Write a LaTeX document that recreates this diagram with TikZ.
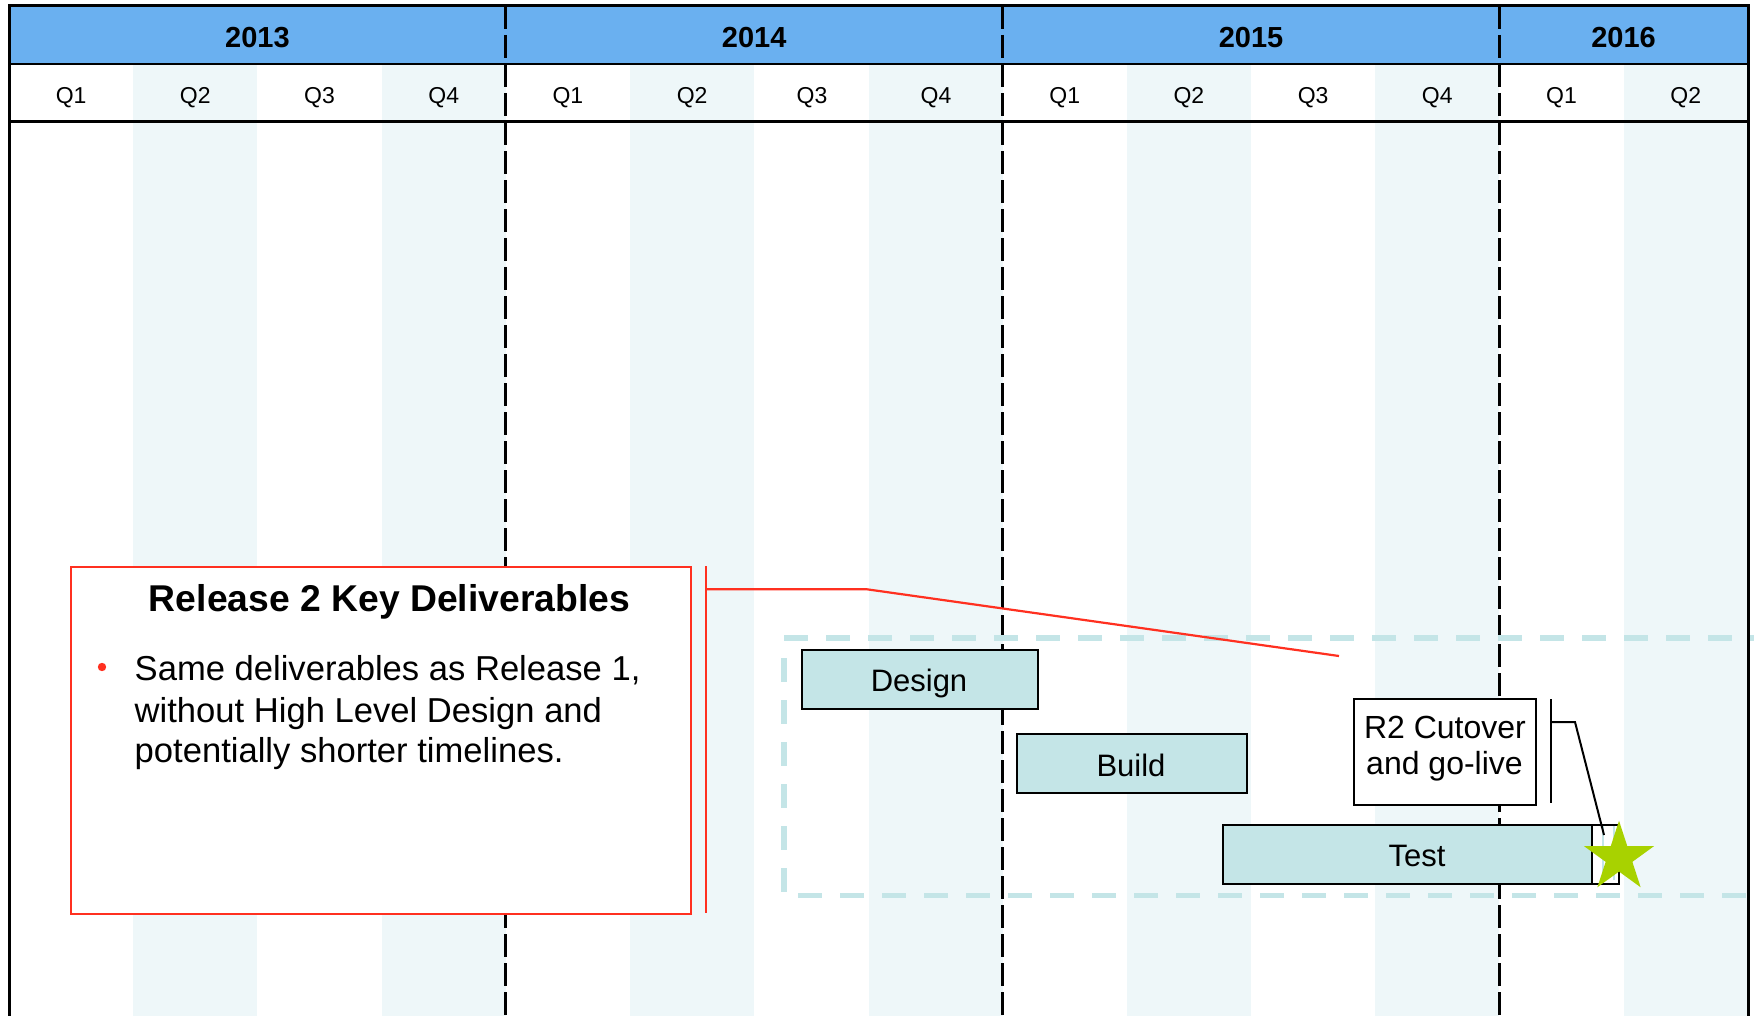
\documentclass[tikz,border=0pt]{standalone}
\usepackage{fontspec}
\setmainfont{Liberation Sans}
\usetikzlibrary{shapes.geometric}
\definecolor{hdrblue}{RGB}{106,176,240}
\definecolor{colshade}{RGB}{238,247,249}
\definecolor{barfill}{RGB}{196,229,231}
\definecolor{calred}{RGB}{255,48,32}
\definecolor{stargreen}{RGB}{168,210,0}
\begin{document}
\begin{tikzpicture}[x=1pt,y=-1pt,
  yearlab/.style={font=\bfseries\fontsize{29}{34}\selectfont, anchor=base, inner sep=0pt},
  qlab/.style={font=\fontsize{23}{28}\selectfont, anchor=base, inner sep=0pt},
  barbox/.style={draw=black, line width=2.2pt, fill=barfill, rectangle, anchor=north west, inner sep=0pt},
  barlab/.style={font=\fontsize{31}{36}\selectfont, anchor=base, inner sep=0pt},
  yearline/.style={line width=2.7pt, dash pattern=on 23pt off 6pt},
  tealdash/.style={draw=barfill, line width=5.5pt, dash pattern=on 24pt off 18pt},
  redline/.style={draw=calred, line width=2.2pt},
  frameline/.style={line width=3pt}]
\useasboundingbox (0,0) rectangle (1754,1016);
\fill[white] (0,0) rectangle (1754,1016);
% shaded quarter columns
\foreach \i in {1,3,5,9,11,13} {
  \fill[colshade] ({9+\i*124.2},64) rectangle ({9+(\i+1)*124.2},1016);
}
\fill[colshade] (869,64) rectangle (1002.6,1016);
% year header
\fill[hdrblue] (9,6) rectangle (1748,64);
\node[yearlab] (y2013) at (257.4,48) {2013};
\node[yearlab] (y2014) at (754.2,48) {2014};
\node[yearlab] (y2015) at (1251.0,48) {2015};
\node[yearlab] (y2016) at (1623.6,48) {2016};
% quarter labels
\foreach \i/\q in {0/Q1,1/Q2,2/Q3,3/Q4,4/Q1,5/Q2,8/Q1,9/Q2,10/Q3,11/Q4,12/Q1,13/Q2} {
  \node[qlab] (q\i) at ({9+(\i+0.5)*124.2},103.5) {\q};
}
\node[qlab] (q6) at (812,103.5) {Q3};
\node[qlab] (q7) at (936,103.5) {Q4};
% frame
\draw[frameline] (9,1016) -- (9,6) -- (1748,6) -- (1748,1016);
\draw[line width=2.6pt] (9,64) -- (1748,64);
\draw[frameline] (9,121.5) -- (1748,121.5);
% year separators
\foreach \i in {4,8,12} {
  \draw[yearline] ({9+\i*124.2},6) -- ({9+\i*124.2},1016);
}
% teal dashed group frame
\draw[tealdash] (784,638) -- (1754,638);
\draw[tealdash] (784,658) -- (784,895);
\draw[tealdash] (798,895.5) -- (1754,895.5);
% red callout
\node[draw=calred, line width=2.4pt, fill=white, rectangle, anchor=north west, minimum width=620pt, minimum height=347pt, inner sep=0pt] (callout) at (70,566) {};
\node[font=\bfseries\fontsize{37.3}{42}\selectfont, anchor=base, inner sep=0pt] (ctitle) at (389.5,611.5) {Release 2 Key Deliverables};
\fill[calred] (102,667) circle (4.2);
\node[font=\fontsize{34.6}{40}\selectfont, anchor=base west, inner sep=0pt] (cl1) at (134.5,680) {Same deliverables as Release 1,};
\node[font=\fontsize{34.6}{40}\selectfont, anchor=base west, inner sep=0pt] (cl2) at (134.5,722) {without High Level Design and};
\node[font=\fontsize{34.6}{40}\selectfont, anchor=base west, inner sep=0pt] (cl3) at (134.5,762) {potentially shorter timelines.};
\coordinate (rtop) at (706,566);
\coordinate (rbot) at (706,913);
\coordinate (rmid) at (706,589.3);
\coordinate (rknee) at (867,589.3);
\coordinate (rtip) at (1339,656);
\draw[redline] (rtop) -- (rbot);
\draw[redline] (rmid) -- (rknee) -- (rtip);
% task bars
\node[barbox, minimum width=236pt, minimum height=59pt] (design) at (801,649) {};
\node[barlab] (designlab) at (919,691.5) {Design};
\node[barbox, minimum width=230pt, minimum height=59pt] (build) at (1016,733) {};
\node[barlab] (buildlab) at (1131,776) {Build};
\node[barbox, minimum width=369pt, minimum height=59pt] (test) at (1222,823.5) {};
\node[barlab] (testlab) at (1417,866) {Test};
\node[draw=black, line width=2pt, fill=white, rectangle, anchor=north west, minimum width=27pt, minimum height=59pt, inner sep=0pt] (endbox) at (1591,823.5) {};
\draw[barfill, line width=2.5pt] (1603,826) -- (1603,880);
\draw[barfill, line width=2.5pt] (1614,826) -- (1614,880);
% milestone label
\node[draw=black, line width=2.2pt, fill=white, rectangle, anchor=north west, minimum width=182pt, minimum height=106pt, inner sep=0pt] (r2box) at (1353,698) {};
\node[barlab, font=\fontsize{32}{36}\selectfont] (r2a) at (1445,738.3) {R2 Cutover};
\node[barlab, font=\fontsize{32}{36}\selectfont] (r2b) at (1444.5,774) {and go-live};
\coordinate (btop) at (1551,699);
\coordinate (bbot) at (1551,803);
\coordinate (bmid) at (1551,722);
\coordinate (bknee) at (1575,722);
\coordinate (btip) at (1604,835);
\draw[line width=2pt] (btop) -- (bbot);
\draw[line width=2pt] (bmid) -- (bknee) -- (btip);
% star
\node[star, star points=5, star point ratio=2.618, minimum size=73.6pt, inner sep=0pt, fill=stargreen] (goal) at (1619,857.5) {};
\end{tikzpicture}
\end{document}
